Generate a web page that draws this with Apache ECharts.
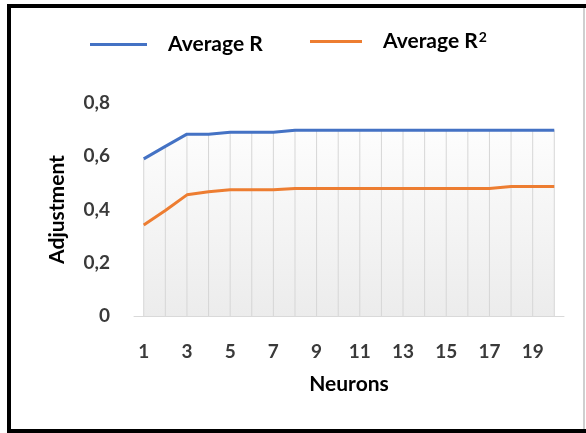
<!DOCTYPE html>
<html>
<head>
<meta charset="utf-8">
<style>
  html, body { margin: 0; padding: 0; background: #fff; }
  #chart { width: 586px; height: 433px; }
</style>
<script src="https://cdn.jsdelivr.net/npm/echarts@6/dist/echarts.min.js"></script>
</head>
<body>
<div id="chart"></div>
<script>
// Neuron counts tried and the resulting average correlation figures
const neurons = [1, 2, 3, 4, 5, 6, 7, 8, 9, 10, 11, 12, 13, 14, 15, 16, 17, 18, 19, 20];
const avgR = [0.59, 0.637, 0.683, 0.683, 0.69, 0.69, 0.69, 0.698, 0.698, 0.698,
              0.698, 0.698, 0.698, 0.698, 0.698, 0.698, 0.698, 0.698, 0.698, 0.698];
const avgR2 = [0.342, 0.396, 0.455, 0.467, 0.474, 0.474, 0.474, 0.479, 0.479, 0.479,
               0.479, 0.479, 0.479, 0.479, 0.479, 0.479, 0.479, 0.486, 0.486, 0.486];
const xTickLabels = [1, 3, 5, 7, 9, 11, 13, 15, 17, 19];

const FONT = 'Lato';
const pairs = (ys) => neurons.map((n, i) => [n, ys[i]]);

const chart = echarts.init(document.getElementById('chart'), null, { renderer: 'canvas' });

chart.setOption({
  animation: false,
  backgroundColor: '#ffffff',
  textStyle: { fontFamily: FONT },
  graphic: [
    {
      type: 'rect', silent: true, z: 100,
      shape: { x: 9, y: 6, width: 580, height: 425 },
      style: { fill: 'none', stroke: '#000', lineWidth: 4 }
    },
    {
      type: 'line', silent: true, z: 100,
      shape: { x1: 584, y1: 8, x2: 584, y2: 429 },
      style: { stroke: '#cfcfcf', lineWidth: 2 }
    }
  ],
  legend: [
    {
      data: ['Average R'],
      left: 90, top: 34, padding: 0,
      itemWidth: 57, itemHeight: 3, icon: 'rect',
      textStyle: { fontFamily: FONT, fontSize: 21, fontWeight: 'bold', color: '#000', padding: [0, 0, 0, 16] }
    },
    {
      data: ['Average R²'],
      left: 310, top: 30, padding: 0,
      itemWidth: 52, itemHeight: 3, icon: 'rect',
      formatter: () => '{b|Average R}{s|2}',
      textStyle: {
        fontFamily: FONT, fontSize: 21, fontWeight: 'bold', color: '#000', padding: [0, 0, 0, 16],
        rich: {
          b: { fontFamily: FONT, fontSize: 21, fontWeight: 'bold', color: '#000' },
          s: { fontFamily: FONT, fontSize: 14, fontWeight: 'bold', color: '#000', verticalAlign: 'top', padding: [0, 0, 9, 1] }
        }
      }
    }
  ],
  grid: { left: 134, right: 22, top: 103, bottom: 117, containLabel: false },
  xAxis: {
    type: 'value',
    min: 0.55, max: 20.45,
    name: 'Neurons',
    nameLocation: 'middle',
    nameGap: 58,
    nameTextStyle: { fontFamily: FONT, fontSize: 21, fontWeight: 'bold', color: '#000' },
    axisLine: { show: true, lineStyle: { color: '#d9d9d9', width: 1 } },
    axisTick: { show: false },
    splitLine: { show: false },
    axisLabel: {
      customValues: xTickLabels,
      margin: 26,
      fontFamily: FONT, fontSize: 19, color: '#3a3a3a', fontWeight: 'bold'
    }
  },
  yAxis: {
    type: 'value',
    min: 0, max: 0.8, interval: 0.2,
    name: 'Adjustment',
    nameLocation: 'middle',
    nameRotate: 90,
    nameGap: 66,
    nameTextStyle: { fontFamily: FONT, fontSize: 21, fontWeight: 'bold', color: '#000' },
    axisLine: { show: false },
    axisTick: { show: false },
    splitLine: { show: false },
    axisLabel: {
      margin: 24,
      fontFamily: FONT, fontSize: 19, color: '#3a3a3a', fontWeight: 'bold',
      formatter: (v) => (Math.round(v * 10) / 10).toString().replace('.', ',')
    }
  },
  series: [
    {
      // soft shading under the upper curve
      name: 'shade',
      type: 'line',
      data: pairs(avgR),
      symbol: 'none',
      silent: true,
      z: 1,
      lineStyle: { width: 0 },
      areaStyle: {
        opacity: 1,
        color: new echarts.graphic.LinearGradient(0, 0, 0, 1, [
          { offset: 0, color: '#fdfdfd' },
          { offset: 1, color: '#ececec' }
        ])
      }
    },
    {
      // drop lines from the upper curve to the axis
      name: 'drop',
      type: 'bar',
      data: pairs(avgR),
      barWidth: 1,
      silent: true,
      z: 2,
      itemStyle: { color: '#d6d6d6' }
    },
    {
      name: 'Average R',
      type: 'line',
      data: pairs(avgR),
      symbol: 'none',
      z: 3,
      color: '#4472C4',
      lineStyle: { color: '#4472C4', width: 3 }
    },
    {
      name: 'Average R²',
      type: 'line',
      data: pairs(avgR2),
      symbol: 'none',
      z: 3,
      color: '#ED7D31',
      lineStyle: { color: '#ED7D31', width: 3 }
    }
  ]
});
</script>
</body>
</html>
